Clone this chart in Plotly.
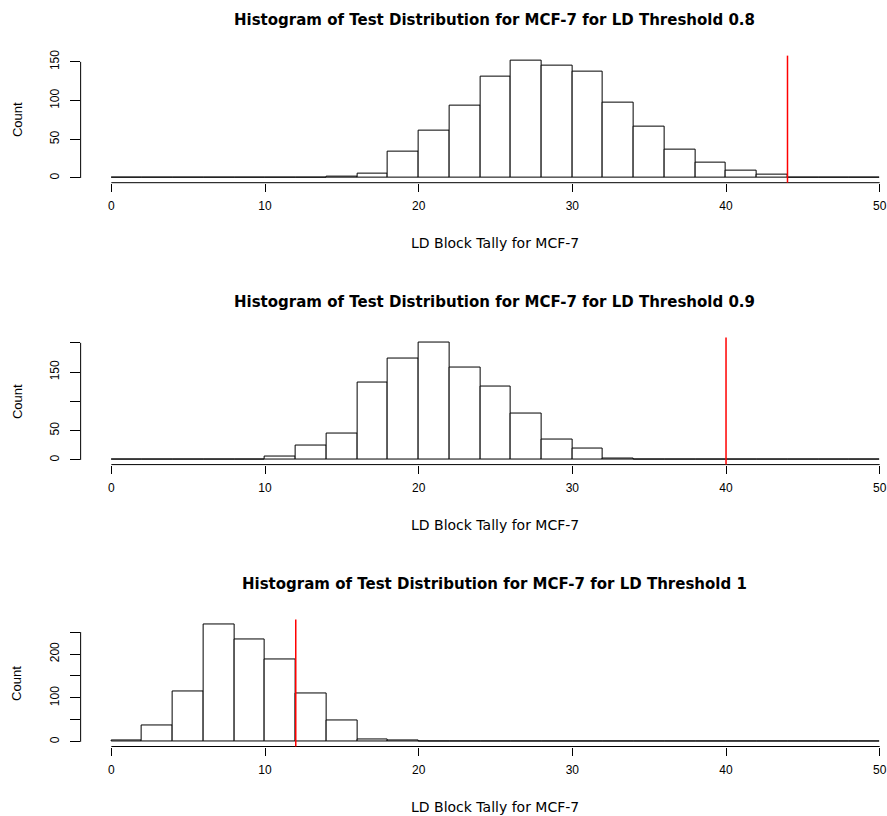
import plotly.graph_objects as go

# ---------------- data ----------------
bin_edges = list(range(0, 52, 2))          # 0,2,...,50
bin_centers = [e + 1 for e in bin_edges[:-1]]

counts_08 = [0, 0, 0, 0, 0, 0, 0, 2, 6, 34, 61, 93, 131, 152, 145, 137, 98, 66, 36, 20, 9, 4, 1, 0, 0]
counts_09 = [0, 0, 0, 0, 1, 6, 24, 45, 132, 173, 201, 157, 125, 79, 34, 19, 2, 1, 1, 0, 0, 0, 0, 0, 0]
counts_10 = [4, 37, 114, 268, 234, 187, 110, 48, 5, 2, 1, 0, 0, 0, 0, 0, 0, 0, 0, 0, 0, 0, 0, 0, 0]

thresholds = ["0.8", "0.9", "1"]
observed = [44, 40, 12]
x_ticks = [0, 10, 20, 30, 40, 50]
y_ticks = [[0, 50, 100, 150], [0, 50, 100, 150, 200], [0, 50, 100, 150, 200, 250]]
y_ticklabels = [["0", "50", "100", "150"], ["0", "50", "", "150", ""], ["0", "", "100", "", "200", ""]]
all_counts = [counts_08, counts_09, counts_10]

# ---------------- layout helpers ----------------
W, H = 887, 816
FONT = "Liberation Sans, Arial, Helvetica, sans-serif"
WIDE = "DejaVu Sans, Liberation Sans, sans-serif"

def px_x(p):
    return p / W

def px_y(p):
    return 1 - p / H

plot_left = 80.9
x_range = [-2, 50.28]
panel_top = [50, 334, 618]
panel_h = 128

fig = go.Figure()
layout = dict(
    width=W, height=H,
    margin=dict(l=0, r=0, t=0, b=0),
    paper_bgcolor="white", plot_bgcolor="white",
    showlegend=False, bargap=0,
    font=dict(family=FONT, color="black"),
)
shapes = []
annotations = []

for i, counts in enumerate(all_counts):
    n = "" if i == 0 else str(i + 1)
    xa, ya = "x" + n, "y" + n
    fig.add_trace(go.Bar(
        x=bin_centers, y=counts, width=2,
        marker=dict(color="white", line=dict(color="black", width=1)),
        xaxis=xa, yaxis=ya, hoverinfo="x+y",
    ))
    M = max(counts)
    top = panel_top[i]
    bottom = top + panel_h
    layout["xaxis" + n] = dict(
        domain=[px_x(plot_left), 1.0], range=x_range, anchor=ya,
        showgrid=False, zeroline=False, showline=False,
        ticks="outside", ticklen=8, tickwidth=1, tickcolor="black",
        tickvals=x_ticks, ticktext=[str(t) for t in x_ticks],
        tickfont=dict(size=12, family=FONT), ticklabelstandoff=4,
        ticklabeloverflow="allow",
    )
    layout["yaxis" + n] = dict(
        domain=[px_y(bottom), px_y(top)], range=[-0.04 * M, 1.04 * M], anchor=xa,
        showgrid=False, zeroline=False, showline=False,
        ticks="outside", ticklen=10, tickwidth=1, tickcolor="black",
        tickvals=y_ticks[i], ticktext=y_ticklabels[i], tickangle=-90,
        tickfont=dict(size=12, family=FONT), ticklabelstandoff=6,
        ticklabeloverflow="allow",
    )
    # R-style detached axis lines
    shapes.append(dict(type="line", xref=xa, yref=ya + " domain",
                       x0=x_ticks[0], x1=x_ticks[-1], y0=0, y1=0,
                       line=dict(color="black", width=1)))
    shapes.append(dict(type="line", xref=xa + " domain", yref=ya,
                       x0=0, x1=0, y0=y_ticks[i][0], y1=y_ticks[i][-1],
                       line=dict(color="black", width=1)))
    # observed value
    shapes.append(dict(type="line", xref=xa, yref=ya + " domain",
                       x0=observed[i], x1=observed[i], y0=0, y1=1,
                       line=dict(color="#ff0000", width=1.5)))
    # texts
    cx = 496.4
    annotations.append(dict(
        text="<b>Histogram of Test Distribution for MCF-7 for LD Threshold %s</b>" % thresholds[i],
        xref="paper", yref="paper", x=px_x(cx), y=px_y(top - 36),
        xanchor="center", yanchor="middle", showarrow=False,
        font=dict(size=15, family=WIDE)))
    annotations.append(dict(
        text="LD Block Tally for MCF-7",
        xref="paper", yref="paper", x=px_x(cx), y=px_y(top + 189),
        xanchor="center", yanchor="middle", showarrow=False,
        font=dict(size=14, family=WIDE)))
    annotations.append(dict(
        text="Count", textangle=-90,
        xref="paper", yref="paper", x=px_x(17), y=px_y(top + panel_h / 2),
        xanchor="center", yanchor="middle", showarrow=False,
        font=dict(size=13, family=FONT)))

layout["shapes"] = shapes
layout["annotations"] = annotations
fig.update_layout(**layout)
fig.write_html("out.html")
